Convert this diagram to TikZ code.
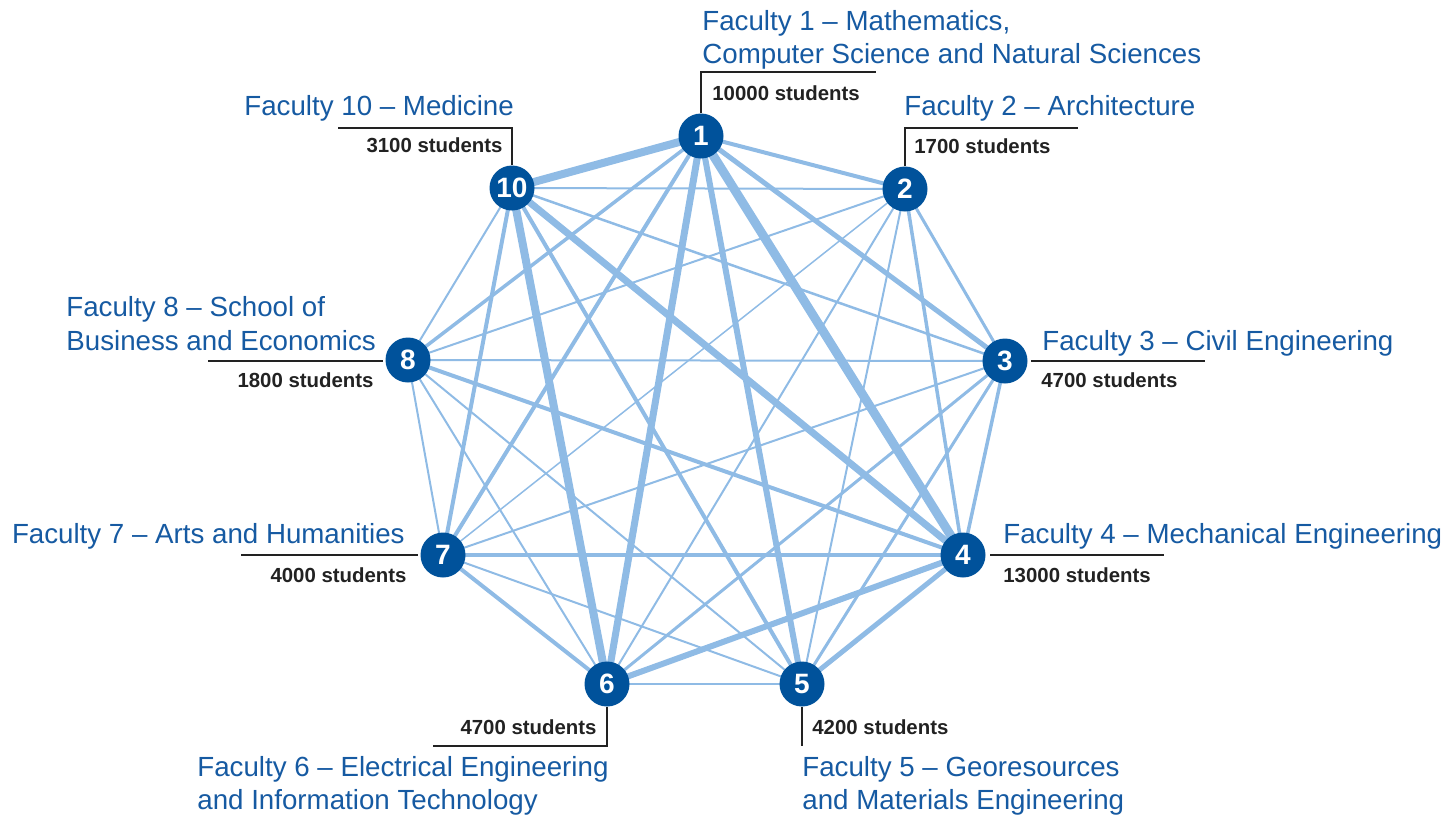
\documentclass[tikz,border=0pt]{standalone}
\usepackage{fontspec}
\setmainfont{Liberation Sans}
\usetikzlibrary{calc}
\definecolor{nodeblue}{RGB}{0,82,155}
\definecolor{textblue}{RGB}{22,90,162}
\definecolor{edgeblue}{RGB}{143,187,229}
\definecolor{darktext}{RGB}{34,34,34}
\pgfdeclarelayer{bg}
\pgfsetlayers{bg,main}
\tikzset{
  fac/.style={circle,fill=nodeblue,text=white,minimum size=22.5pt,inner sep=0pt,
    font=\bfseries\fontsize{14}{14}\selectfont},
  edge/.style={draw=edgeblue},
  callout/.style={draw=darktext,line width=0.75pt},
  blab/.style={text=textblue,inner sep=0pt,font=\fontsize{13.85}{16}\selectfont},
  slab/.style={text=darktext,inner sep=0pt,font=\bfseries\fontsize{10.2}{12}\selectfont},
}
\begin{document}
\begin{tikzpicture}[x=0.5pt,y=-0.5pt]
\useasboundingbox (0,0) rectangle (1448,816);
% faculties
\node[fac] (n1) at (701,136) {1};
\node[fac] (n2) at (905,189) {2};
\node[fac] (n3) at (1005,361) {3};
\node[fac] (n4) at (963,555) {4};
\node[fac] (n5) at (802,684) {5};
\node[fac] (n6) at (607,684) {6};
\node[fac] (n7) at (443,555) {7};
\node[fac] (n8) at (408,360) {8};
\node[fac] (n10) at (512,188) {10};
% connections
\begin{pgfonlayer}{bg}
\foreach \a/\b/\w in {1/10/8, 1/2/4, 1/3/5, 1/4/9, 1/5/6, 1/6/7, 1/7/4, 1/8/3.5,
  2/10/2, 2/3/3, 2/4/3.5, 2/5/2, 2/6/2, 2/7/1.5, 2/8/2,
  3/10/2.5, 3/4/3.5, 3/5/3, 3/6/3, 3/7/2, 3/8/2,
  4/10/7, 4/5/5, 4/6/6, 4/7/3.5, 4/8/4,
  5/10/4, 5/6/2, 5/7/2, 5/8/2,
  6/10/8, 6/7/4, 6/8/2,
  7/10/4, 7/8/2,
  8/10/2}
  \draw[edge,line width=\w*0.5pt] (n\a.center) -- (n\b.center);
\end{pgfonlayer}
% callout lines
\coordinate (c1) at (876,72);
\coordinate (c2) at (1078,128);
\coordinate (c3a) at (1031,361);
\coordinate (c3b) at (1205,361);
\coordinate (c4a) at (990,555);
\coordinate (c4b) at (1164,555);
\coordinate (c5) at (802,746);
\coordinate (c6) at (433,746);
\coordinate (c7a) at (241,555);
\coordinate (c7b) at (418,555);
\coordinate (c8a) at (208,361);
\coordinate (c8b) at (383,361);
\coordinate (c10) at (338,128);
\draw[callout] (n1.north) |- (c1);
\draw[callout] (n2.north) |- (c2);
\draw[callout] (c3a) -- (c3b);
\draw[callout] (c4a) -- (c4b);
\draw[callout] (n5.south) -- (c5);
\draw[callout] (n6.south) |- (c6);
\draw[callout] (c7a) -- (c7b);
\draw[callout] (c8a) -- (c8b);
\draw[callout] (n10.north) |- (c10);
% labels
\node[blab,anchor=base west] (t1a) at (702,30) {Faculty 1 – Mathematics,};
\node[blab,anchor=base west] (t1b) at (702,63) {Computer Science and Natural Sciences};
\node[slab,anchor=base west] (s1) at (712,100) {10000 students};
\node[blab,anchor=base west] (t2) at (904,115) {Faculty 2 – Architecture};
\node[slab,anchor=base west] (s2) at (914,153) {1700 students};
\node[blab,anchor=base west] (t3) at (1042,350) {Faculty 3 – Civil Engineering};
\node[slab,anchor=base west] (s3) at (1041,387) {4700 students};
\node[blab,anchor=base west] (t4) at (1003,543) {Faculty 4 – Mechanical Engineering};
\node[slab,anchor=base west] (s4) at (1003,582) {13000 students};
\node[slab,anchor=base west] (s5) at (812,734) {4200 students};
\node[blab,anchor=base west] (t5a) at (802,776) {Faculty 5 – Georesources};
\node[blab,anchor=base west] (t5b) at (802,809) {and Materials Engineering};
\node[slab,anchor=base east] (s6) at (597,734) {4700 students};
\node[blab,anchor=base west] (t6a) at (197,776) {Faculty 6 – Electrical Engineering};
\node[blab,anchor=base west] (t6b) at (197,809) {and Information Technology};
\node[blab,anchor=base east] (t7) at (405,543) {Faculty 7 – Arts and Humanities};
\node[slab,anchor=base east] (s7) at (407,582) {4000 students};
\node[blab,anchor=base west] (t8a) at (66,316) {Faculty 8 – School of};
\node[blab,anchor=base west] (t8b) at (66,350) {Business and Economics};
\node[slab,anchor=base east] (s8) at (374,387) {1800 students};
\node[blab,anchor=base west] (t10) at (244,115) {Faculty 10 – Medicine};
\node[slab,anchor=base east] (s10) at (503,152) {3100 students};
\end{tikzpicture}
\end{document}
